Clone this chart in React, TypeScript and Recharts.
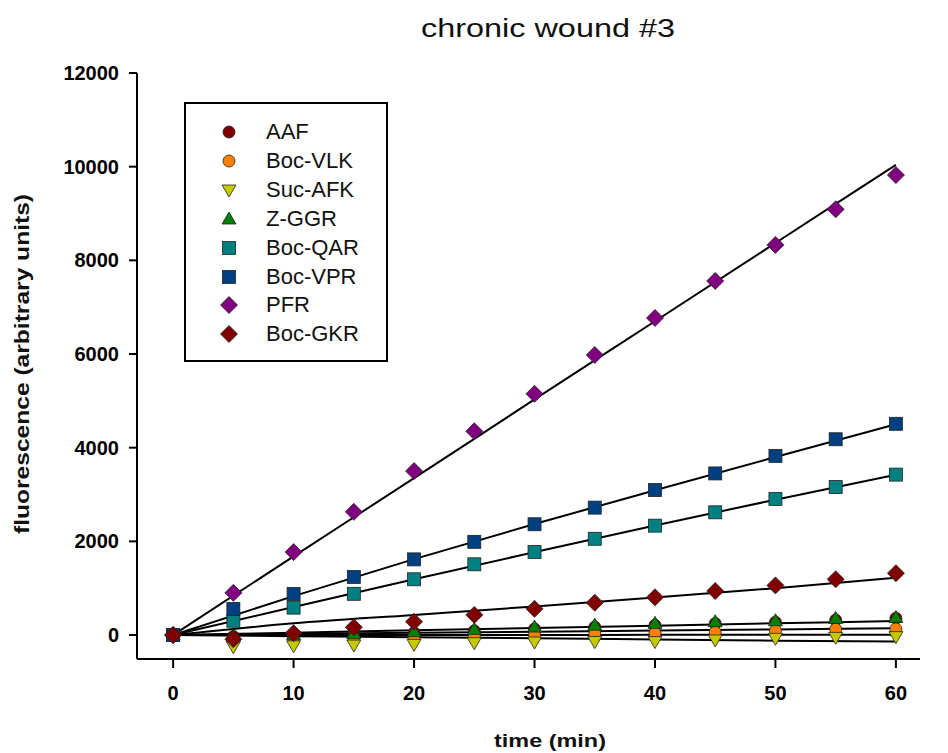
import { ComposedChart, Line, Scatter, XAxis, YAxis } from 'recharts'

// sampling times (min)
const times = [0, 5, 10, 15, 20, 25, 30, 35, 40, 45, 50, 55, 60]

// measured fluorescence per substrate
const aaf = [0, -30, 0, 20, 50, 90, 130, 170, 210, 245, 275, 320, 360]
const bocVlk = [0, -90, -80, -70, -55, -20, 0, 35, 40, 60, 100, 125, 130]
const sucAfk = [0, -250, -230, -215, -200, -165, -150, -140, -140, -105, -70, -50, -35]
const zGgr = [0, -20, 10, 30, 70, 120, 170, 210, 250, 285, 305, 355, 375]
const bocQar = [0, 305, 585, 880, 1190, 1510, 1775, 2055, 2335, 2620, 2905, 3160, 3425]
const bocVpr = [0, 555, 875, 1240, 1615, 1990, 2365, 2720, 3095, 3450, 3825, 4180, 4510]
const pfr = [0, 900, 1770, 2630, 3500, 4350, 5150, 5980, 6770, 7560, 8330, 9090, 9820]
const bocGkr = [0, -90, 40, 165, 285, 430, 560, 690, 805, 940, 1060, 1190, 1320]

// fitted curves
const fitTimes = [0, 10, 20, 30, 40, 50, 60]
const aafFit = [0, 25, 50, 70, 95, 120, 145]
const bocVlkFit = [0, 0, 0, 0, 5, 5, 5]
const sucAfkFit = [0, -25, -50, -70, -95, -120, -140]
const zGgrFit = [0, 50, 100, 150, 200, 250, 300]
const bocQarFit = [0, 600, 1190, 1770, 2340, 2890, 3420]
const bocVprFit = [0, 830, 1620, 2370, 3090, 3800, 4500]
const pfrFit = [0, 1680, 3350, 5030, 6700, 8370, 10040]
const bocGkrFit = [0, 250, 430, 610, 800, 1000, 1225]

const xTicks = [0, 10, 20, 30, 40, 50, 60]
const yTicks = [0, 2000, 4000, 6000, 8000, 10000, 12000]

const series = [
    { name: 'AAF', values: aaf, fit: aafFit },
    { name: 'Boc-VLK', values: bocVlk, fit: bocVlkFit },
    { name: 'Suc-AFK', values: sucAfk, fit: sucAfkFit },
    { name: 'Z-GGR', values: zGgr, fit: zGgrFit },
    { name: 'Boc-QAR', values: bocQar, fit: bocQarFit },
    { name: 'Boc-VPR', values: bocVpr, fit: bocVprFit },
    { name: 'PFR', values: pfr, fit: pfrFit },
    { name: 'Boc-GKR', values: bocGkr, fit: bocGkrFit },
]

const styles: Record<string, { color: string; kind: string }> = {
    'AAF': { color: '#800000', kind: 'circle' },
    'Boc-VLK': { color: '#FF8000', kind: 'circle' },
    'Suc-AFK': { color: '#C8C800', kind: 'down' },
    'Z-GGR': { color: '#008000', kind: 'up' },
    'Boc-QAR': { color: '#008080', kind: 'square' },
    'Boc-VPR': { color: '#004080', kind: 'square' },
    'PFR': { color: '#800080', kind: 'diamond' },
    'Boc-GKR': { color: '#800000', kind: 'diamond' },
}

const FONT = 'Arial, "Liberation Sans", sans-serif'

function Marker({ cx, cy, kind, color }: { cx: number; cy: number; kind: string; color: string }) {
    const stroke = '#222'
    if (cx == null || cy == null) return null
    if (kind === 'circle') return <circle cx={cx} cy={cy} r={6} fill={color} stroke={stroke} strokeWidth={0.8} />
    if (kind === 'square') return <rect x={cx - 6.5} y={cy - 6.5} width={13} height={13} fill={color} stroke={stroke} strokeWidth={0.8} />
    if (kind === 'diamond')
        return <polygon points={`${cx},${cy - 8.5} ${cx + 8.5},${cy} ${cx},${cy + 8.5} ${cx - 8.5},${cy}`} fill={color} stroke={stroke} strokeWidth={0.8} />
    if (kind === 'up')
        return <polygon points={`${cx},${cy - 7} ${cx + 7},${cy + 5} ${cx - 7},${cy + 5}`} fill={color} stroke={stroke} strokeWidth={0.8} />
    return <polygon points={`${cx - 7},${cy - 5} ${cx + 7},${cy - 5} ${cx},${cy + 7}`} fill={color} stroke={stroke} strokeWidth={0.8} />
}

export default function App() {
    return (
        <div style={{ position: 'relative', width: 940, height: 745, fontFamily: FONT }}>
            <ComposedChart width={940} height={745} margin={{ top: 65, right: 28, left: 0, bottom: 0 }}>
                <XAxis
                    type="number"
                    dataKey="t"
                    domain={[-3, 62]}
                    ticks={xTicks}
                    allowDataOverflow
                    height={94}
                    stroke="#000"
                    strokeWidth={2}
                    tickSize={9}
                    tickMargin={18}
                    tick={{ fill: '#000', fontSize: 20, fontWeight: 'bold', fontFamily: FONT }}
                />
                <YAxis
                    type="number"
                    dataKey="v"
                    domain={[-512, 12000]}
                    ticks={yTicks}
                    allowDataOverflow
                    width={129}
                    stroke="#000"
                    strokeWidth={2}
                    tickSize={8}
                    tickMargin={10}
                    tick={{ fill: '#000', fontSize: 20, fontWeight: 'bold', fontFamily: FONT }}
                />
                {series.map((s) => (
                    <Line
                        key={s.name + '-fit'}
                        data={fitTimes.map((t, i) => ({ t, v: s.fit[i] }))}
                        dataKey="v"
                        type="monotone"
                        stroke="#000"
                        strokeWidth={2}
                        dot={false}
                        activeDot={false}
                        legendType="none"
                        isAnimationActive={false}
                    />
                ))}
                {series.map((s) => (
                    <Scatter
                        key={s.name}
                        name={s.name}
                        data={times.map((t, i) => ({ t, v: s.values[i] }))}
                        dataKey="v"
                        fill={styles[s.name].color}
                        isAnimationActive={false}
                        shape={(p: any) => <Marker cx={p.cx} cy={p.cy} kind={styles[s.name].kind} color={styles[s.name].color} />}
                    />
                ))}
            </ComposedChart>

            {/* title and axis titles */}
            <svg width={940} height={745} style={{ position: 'absolute', left: 0, top: 0, pointerEvents: 'none' }}>
                <text x={540} y={29} textAnchor="middle" fontSize={25} fontFamily={FONT} fill="#111" textLength={254} lengthAdjust="spacingAndGlyphs">
                    chronic wound #3
                </text>
                <text x={542} y={739} textAnchor="middle" fontSize={19} fontWeight="bold" fontFamily={FONT} fill="#111" textLength={112} lengthAdjust="spacingAndGlyphs">
                    time (min)
                </text>
                <text x={21} y={356} transform="rotate(-90 21 356)" textAnchor="middle" fontSize={20} fontWeight="bold" fontFamily={FONT} fill="#111" textLength={340} lengthAdjust="spacingAndGlyphs">
                    fluorescence (arbitrary units)
                </text>
            </svg>

            {/* legend box */}
            <div
                style={{
                    position: 'absolute',
                    left: 176,
                    top: 94,
                    width: 200,
                    height: 256,
                    border: '2px solid #000',
                    background: '#fff',
                }}
            >
                {series.map((s, i) => (
                    <div key={s.name} style={{ position: 'absolute', left: 0, top: 28 + i * 28.9 - 14, height: 28, display: 'flex', alignItems: 'center' }}>
                        <svg width={80} height={28} style={{ display: 'block' }}>
                            <Marker cx={43} cy={14} kind={styles[s.name].kind} color={styles[s.name].color} />
                        </svg>
                        <span style={{ fontSize: 22, color: '#111', whiteSpace: 'nowrap' }}>{s.name}</span>
                    </div>
                ))}
            </div>
        </div>
    )
}
